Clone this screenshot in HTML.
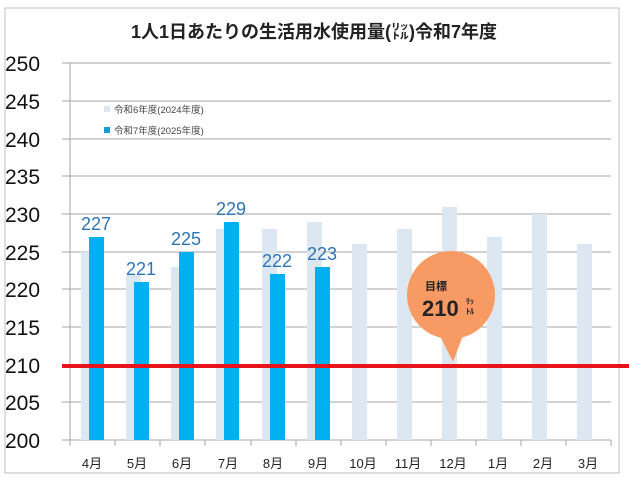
<!DOCTYPE html>
<html><head><meta charset="utf-8"><style>
body{margin:0;background:#fff;}
svg text{font-family:"Liberation Sans","Noto Sans CJK JP",sans-serif;}
</style></head><body>
<svg width="629" height="480" viewBox="0 0 629 480" xmlns="http://www.w3.org/2000/svg">
<rect x="0" y="0" width="629" height="480" fill="#fff"/>
<rect x="5" y="8" width="614" height="465" fill="none" stroke="#bfbfbf" stroke-width="1"/>
<text x="314" y="38" text-anchor="middle" font-size="18" font-weight="bold" fill="#222">1人1日あたりの生活用水使用量(㍑)令和7年度</text>
<g stroke="#a6a6a6" stroke-width="1">
<line x1="62" y1="63" x2="611" y2="63"/><line x1="62" y1="101" x2="611" y2="101"/>
<line x1="62" y1="139" x2="611" y2="139"/><line x1="62" y1="176" x2="611" y2="176"/>
<line x1="62" y1="214" x2="611" y2="214"/><line x1="62" y1="252" x2="611" y2="252"/>
<line x1="62" y1="289" x2="611" y2="289"/><line x1="62" y1="327" x2="611" y2="327"/>
<line x1="62" y1="402" x2="611" y2="402"/><line x1="62" y1="440" x2="611" y2="440"/>
<line x1="70" y1="63" x2="70" y2="440"/>
<line x1="70" y1="440" x2="70" y2="446"/><line x1="115" y1="440" x2="115" y2="446"/><line x1="160" y1="440" x2="160" y2="446"/><line x1="205" y1="440" x2="205" y2="446"/><line x1="251" y1="440" x2="251" y2="446"/><line x1="296" y1="440" x2="296" y2="446"/><line x1="341" y1="440" x2="341" y2="446"/><line x1="386" y1="440" x2="386" y2="446"/><line x1="431" y1="440" x2="431" y2="446"/><line x1="476" y1="440" x2="476" y2="446"/><line x1="521" y1="440" x2="521" y2="446"/><line x1="566" y1="440" x2="566" y2="446"/><line x1="611" y1="440" x2="611" y2="446"/>
</g>
<g font-size="21" fill="#111">
<text x="5" y="71">250</text><text x="5" y="109">245</text><text x="5" y="147">240</text><text x="5" y="184">235</text><text x="5" y="222">230</text><text x="5" y="260">225</text><text x="5" y="297">220</text><text x="5" y="335">215</text><text x="5" y="373">210</text><text x="5" y="410">205</text><text x="5" y="448">200</text>
</g>
<g fill="#dde7f2">
<rect x="81" y="252" width="15" height="188"/>
<rect x="126" y="275" width="15" height="165"/>
<rect x="171" y="267" width="15" height="173"/>
<rect x="216" y="229" width="15" height="211"/>
<rect x="262" y="229" width="15" height="211"/>
<rect x="307" y="222" width="15" height="218"/>
<rect x="352" y="244" width="15" height="196"/>
<rect x="397" y="229" width="15" height="211"/>
<rect x="442" y="207" width="15" height="233"/>
<rect x="487" y="237" width="15" height="203"/>
<rect x="532" y="214" width="15" height="226"/>
<rect x="577" y="244" width="15" height="196"/>
</g>
<g fill="#00b0f0">
<rect x="89" y="237" width="15" height="203"/>
<rect x="134" y="282" width="15" height="158"/>
<rect x="179" y="252" width="15" height="188"/>
<rect x="224" y="222" width="15" height="218"/>
<rect x="270" y="274" width="15" height="166"/>
<rect x="315" y="267" width="15" height="173"/>
</g>
<g font-size="18" fill="#2e75b6" text-anchor="middle">
<text x="96" y="230">227</text><text x="141" y="275">221</text><text x="186" y="245">225</text><text x="231" y="215">229</text><text x="277" y="267">222</text><text x="322" y="260">223</text>
</g>
<line x1="62" y1="366" x2="629" y2="366" stroke="#e8141c" stroke-width="4"/>
<rect x="104" y="106" width="6" height="6" fill="#dde7f2"/>
<text x="114" y="113" font-size="9.5" fill="#444">令和6年度(2024年度)</text>
<rect x="104" y="127" width="6" height="6" fill="#1a9ad6"/>
<text x="114" y="134" font-size="9.5" fill="#444">令和7年度(2025年度)</text>
<circle cx="451" cy="295" r="44" fill="#f79a63"/>
<polygon points="437,330 465,330 453,362" fill="#f79a63"/>
<text x="425" y="290" font-size="11" font-weight="bold" fill="#222">目標</text>
<text x="422" y="316" font-size="22" font-weight="bold" fill="#222">210</text>
<text x="466" y="304" font-size="8" font-weight="bold" fill="#222">ﾘｯ</text>
<text x="466" y="314" font-size="8" font-weight="bold" fill="#222">ﾄﾙ</text>
<g font-size="13" fill="#222" text-anchor="middle">
<text x="92" y="468">4月</text><text x="137" y="468">5月</text><text x="182" y="468">6月</text><text x="228" y="468">7月</text><text x="273" y="468">8月</text><text x="318" y="468">9月</text><text x="363" y="468">10月</text><text x="408" y="468">11月</text><text x="453" y="468">12月</text><text x="498" y="468">1月</text><text x="543" y="468">2月</text><text x="588" y="468">3月</text>
</g>
</svg>
</body></html>
